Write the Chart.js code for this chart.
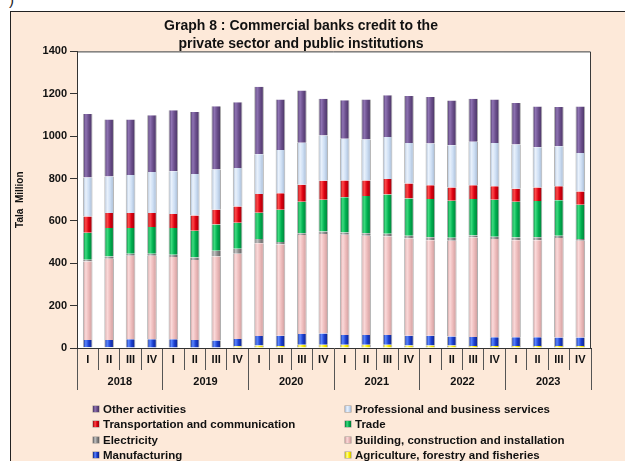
<!DOCTYPE html>
<html>
<head>
<meta charset="utf-8">
<script src="https://cdn.jsdelivr.net/npm/chart.js@4"></script>
<style>
  html, body { margin: 0; padding: 0; background: #fff; overflow: hidden; width: 625px; height: 461px; }
  #mark { position: absolute; left: 9px; top: -9px; font: 15px "Liberation Sans", Arial, sans-serif; color: #222; }
  #frame {
    position: absolute; left: 10px; top: 11px; width: 700px; height: 470px;
    background: #fde9d9; border-top: 1px solid #222; border-left: 1px solid #222;
  }
  #chart { position: absolute; left: 0; top: 0; }
  #legend {
    position: absolute; left: 82px; top: 390px;
    display: grid; grid-template-columns: 252px 280px; row-gap: 0;
    font: bold 11.5px "Liberation Sans", Arial, sans-serif; color: #111;
  }
  #legend div { height: 15.4px; line-height: 15.4px; white-space: nowrap; }
  #legend span.box {
    display: inline-block; width: 6px; height: 6px; margin-right: 4px; vertical-align: 1px;
    box-shadow: 0 0 0 0.5px rgba(90,90,90,0.6);
  }
</style>
</head>
<body>
<div id="mark">)</div>
<div id="frame">
  <canvas id="chart" width="652" height="449"></canvas>
  <div id="legend"></div>
</div>
<script>
const quarters = ["I", "II", "III", "IV"];
const years = ["2018", "2019", "2020", "2021", "2022", "2023"];
const labels = years.flatMap(() => quarters);

// valores em milhões de tala, de baixo para cima na pilha
const agriculture = [3, 3, 2, 2, 2, 2, 2, 8, 12, 10, 15, 15, 15, 15, 15, 12, 12, 12, 10, 10, 10, 10, 10, 10];
const manufacturing = [35, 35, 39, 39, 39, 36, 33, 35, 45, 48, 51, 54, 46, 46, 46, 46, 46, 42, 42, 41, 41, 41, 39, 39];
const building = [370, 383, 394, 394, 389, 377, 397, 402, 438, 431, 467, 469, 473, 469, 465, 459, 451, 452, 470, 463, 458, 458, 470, 457];
const electricity = [8, 11, 10, 10, 10, 12, 27, 23, 20, 11, 9, 12, 11, 12, 13, 13, 14, 14, 9, 11, 13, 14, 11, 9];
const trade = [128, 134, 121, 126, 126, 126, 124, 123, 123, 153, 148, 150, 167, 175, 186, 176, 180, 175, 172, 175, 168, 171, 167, 161];
const transport = [77, 71, 71, 66, 66, 73, 70, 77, 89, 77, 81, 90, 79, 74, 73, 70, 65, 63, 65, 63, 62, 63, 67, 63];
const professional = [184, 173, 180, 194, 202, 195, 189, 182, 187, 205, 198, 213, 197, 193, 198, 192, 197, 199, 205, 205, 208, 190, 188, 182];
const other = [300, 268, 261, 268, 288, 293, 299, 310, 319, 238, 246, 173, 182, 189, 197, 222, 220, 211, 203, 205, 197, 193, 186, 219];

const yTicks = [0, 200, 400, 600, 800, 1000, 1200, 1400];

const series = [
  { label: "Agriculture, forestry and fisheries", data: agriculture, base: "#fff000", light: "#ffff9a", dark: "#c9bd00" },
  { label: "Manufacturing", data: manufacturing, base: "#1c3fd0", light: "#5a86ff", dark: "#0b1f80" },
  { label: "Building, construction and installation", data: building, base: "#eebcbc", light: "#fbdada", dark: "#c99a9a" },
  { label: "Electricity", data: electricity, base: "#8c8c8c", light: "#c4c4c4", dark: "#5c5c5c" },
  { label: "Trade", data: trade, base: "#00b050", light: "#3ddc80", dark: "#007a36" },
  { label: "Transportation and communication", data: transport, base: "#dd0010", light: "#ff4a4a", dark: "#960008" },
  { label: "Professional and business services", data: professional, base: "#cfe0f5", light: "#eaf2fc", dark: "#a3b7d1" },
  { label: "Other activities", data: other, base: "#6b4f8c", light: "#8f74b3", dark: "#45315f" }
];

const FONT = "'Liberation Sans', Arial, sans-serif";
const BAR_W = 9.6;

function corBarra(s) {
  return (ctx) => {
    const chart = ctx.chart;
    if (!chart.chartArea || ctx.dataIndex === undefined) return s.base;
    const x = chart.scales.x.getPixelForValue(ctx.dataIndex);
    const g = chart.ctx.createLinearGradient(x - BAR_W / 2, 0, x + BAR_W / 2, 0);
    g.addColorStop(0, s.dark);
    g.addColorStop(0.3, s.light);
    g.addColorStop(0.6, s.base);
    g.addColorStop(1, s.dark);
    return g;
  };
}

const fundoPlot = {
  id: "fundoPlot",
  beforeDraw(chart) {
    const { ctx, chartArea: a } = chart;
    ctx.save();
    ctx.fillStyle = "#ffffff";
    ctx.fillRect(a.left, a.top, a.width, a.height);
    ctx.restore();
  },
  afterDraw(chart) {
    const { ctx, chartArea: a } = chart;
    ctx.save();
    ctx.strokeStyle = "#3a3a3a";
    ctx.lineWidth = 1;
    ctx.beginPath();
    ctx.moveTo(a.left, a.top + 0.5);
    ctx.lineTo(a.right - 0.5, a.top + 0.5);
    ctx.lineTo(a.right - 0.5, a.bottom);
    ctx.stroke();
    ctx.restore();
  }
};

const chart = new Chart(document.getElementById("chart"), {
  type: "bar",
  data: {
    labels,
    datasets: series.map(s => ({
      label: s.label,
      data: s.data,
      backgroundColor: corBarra(s),
      borderColor: "rgba(110,110,110,0.55)",
      borderWidth: { left: 1, right: 1, top: 0, bottom: 0 },
      borderSkipped: false,
      barPercentage: 0.45,
      categoryPercentage: 1
    }))
  },
  options: {
    responsive: false,
    animation: false,
    devicePixelRatio: 1,
    layout: { padding: { left: 0, right: 72, top: 0, bottom: 71 } },
    plugins: {
      legend: { display: false },
      tooltip: { enabled: false },
      title: {
        display: true,
        text: ["Graph 8 : Commercial banks credit to the", "private sector and public institutions"],
        color: "#111",
        font: { family: FONT, size: 14, weight: "bold", lineHeight: 1.3 },
        padding: { top: 5, bottom: -2 }
      }
    },
    scales: {
      x: {
        stacked: true,
        grid: { offset: true, drawOnChartArea: false, drawTicks: true, tickLength: 22, color: "#555", lineWidth: 1 },
        border: { display: true, color: "#333" },
        ticks: { color: "#111", font: { family: FONT, size: 11, weight: "bold" }, padding: -17, maxRotation: 0, autoSkip: false },
        afterFit: (scale) => { scale.height = 22; }
      },
      x2: {
        type: "category",
        labels: years,
        position: "bottom",
        grid: { offset: true, drawOnChartArea: false, drawTicks: true, tickLength: 20, color: "#555", lineWidth: 1 },
        border: { display: false },
        ticks: { color: "#111", font: { family: FONT, size: 11, weight: "bold" }, padding: -15, maxRotation: 0, autoSkip: false },
        afterFit: (scale) => { scale.height = 20; }
      },
      y: {
        stacked: true,
        min: 0,
        max: 1400,
        afterBuildTicks: (scale) => { scale.ticks = yTicks.map(v => ({ value: v })); },
        grid: { drawOnChartArea: false, drawTicks: true, tickLength: 7, color: "#333" },
        border: { display: true, color: "#333" },
        ticks: {
          color: "#111",
          font: { family: FONT, size: 11, weight: "bold" },
          padding: 3,
          callback: (v) => String(v)
        },
        title: {
          display: true,
          text: "Tala  Million",
          color: "#111",
          font: { family: FONT, size: 10, weight: "bold" },
          padding: { top: 3, bottom: 0 }
        },
        afterFit: (scale) => { scale.width = 66; }
      }
    }
  },
  plugins: [fundoPlot]
});

// legenda em duas colunas, ordem inversa da pilha
const legendEl = document.getElementById("legend");
legendEl.innerHTML = series.slice().reverse().map(s =>
  `<div><span class="box" style="background:linear-gradient(90deg, ${s.dark}, ${s.light} 35%, ${s.base} 65%, ${s.dark})"></span>${s.label}</div>`
).join("");
</script>
</body>
</html>
